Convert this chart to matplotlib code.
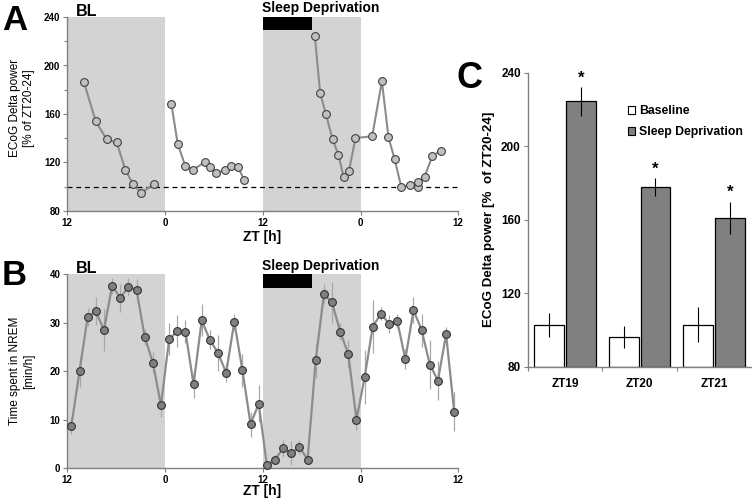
import matplotlib
matplotlib.use("Agg")
import matplotlib.pyplot as plt
import numpy as np
from matplotlib.patches import Patch, Rectangle

plt.rcParams['font.family'] = ['Liberation Sans', 'DejaVu Sans']

# ---------------- data ----------------
# Panel A: ECoG delta power (% of ZT20-24); x = hours from start (label 12,0,12,0,12)
a1_hours = [2.05, 3.49, 4.84, 6.07, 7.13, 8.07, 9.09, 10.69]
a1_values = [186, 154, 139, 136.5, 114, 102, 95, 102.5]
a2_hours = [12.78, 13.56, 14.47, 15.48, 16.88, 17.53, 18.27, 19.37, 20.07, 20.93, 21.74]
a2_values = [168, 135.3, 117.4, 114.1, 120.4, 116.5, 111.6, 113.6, 117.1, 116.3, 105.6]
a3_hours = [30.39, 31.04, 31.74, 32.56, 33.29, 33.91, 34.57, 35.38, 37.43, 38.62,
            39.43, 40.17, 41.0, 42.06, 43.1, 43.05, 43.86, 44.8, 45.82]
a3_values = [224.3, 177.1, 160.3, 139.1, 126.4, 108.3, 112.7, 140.2, 141.6, 187,
             140.8, 123.1, 99.8, 101.4, 100, 104.2, 108.3, 125.1, 129.8]

# Panel B: time spent in NREM (min/h), hourly
b_hours = list(np.arange(48) + 0.5)
b_values = [8.8, 20.0, 31.2, 32.4, 28.5, 37.6, 35.2, 37.4, 36.8, 27.1, 21.8, 13.0,
            26.6, 28.3, 28.2, 17.3, 30.5, 26.5, 23.8, 19.7, 30.2, 20.2, 9.1, 13.3,
            0.6, 1.8, 4.1, 3.1, 4.4, 1.8, 22.3, 35.9, 34.2, 28.2, 23.5, 10.0,
            18.8, 29.2, 31.9, 29.8, 30.4, 22.5, 32.6, 28.5, 21.4, 18.1, 27.6, 11.7]
b_errors = [1.7, 3.2, 1.9, 2.9, 4.3, 1.7, 2.9, 1.9, 2.3, 1.7, 2.2, 2.5,
            3.3, 3.3, 2.4, 2.9, 3.3, 2.0, 3.7, 2.0, 1.6, 3.4, 2.6, 3.8,
            1.0, 1.0, 1.7, 2.5, 1.5, 1.0, 3.6, 2.0, 4.3, 1.7, 2.9, 2.2,
            5.5, 5.5, 1.4, 1.9, 1.4, 2.0, 2.7, 3.4, 5.0, 4.0, 1.6, 4.1]

x_tick_pos = [0, 12, 24, 36, 48]
x_tick_labels = ['12', '0', '12', '0', '12']
dark_periods = [(0, 12), (24, 36)]
sd_period = (24, 30)

# Panel C
c_categories = ['ZT19', 'ZT20', 'ZT21']
c_baseline = [102.5, 96.0, 102.9]
c_baseline_err = [6.6, 5.9, 9.6]
c_sd = [224.4, 177.8, 160.9]
c_sd_err = [7.7, 4.7, 8.7]

# ---------------- figure ----------------
W, H = 752, 499
fig = plt.figure(figsize=(W / 100, H / 100), dpi=100)

def fx(px):
    return px / W

def fy(py):
    return 1 - py / H

shade = '#d3d3d3'
spine_col = '#808080'
tick_fs = 7

def style_axes(ax):
    for s in ['top', 'right']:
        ax.spines[s].set_visible(False)
    for s in ['left', 'bottom']:
        ax.spines[s].set_color(spine_col)
        ax.spines[s].set_linewidth(1.0)
    ax.tick_params(direction='out', length=3, width=0.8, color=spine_col,
                   labelsize=tick_fs, pad=2)
    for lab in ax.get_xticklabels() + ax.get_yticklabels():
        lab.set_fontweight('bold')

# ----- Panel A -----
axA = fig.add_axes([fx(67.3), fy(211), fx(458.3 - 67.3), (211 - 17) / H])
for s, e in dark_periods:
    axA.axvspan(s, e, color=shade, lw=0, zorder=0)
axA.add_patch(Rectangle((sd_period[0], 229.3), sd_period[1] - sd_period[0], 10.7,
                        color='black', lw=0, zorder=3, clip_on=False))
axA.axhline(100, color='black', ls=(0, (4, 3)), lw=0.9, zorder=1)
for hrs, vals in [(a1_hours, a1_values), (a2_hours, a2_values), (a3_hours, a3_values)]:
    axA.plot(hrs, vals, color='#8c8c8c', lw=1.5, marker='o', ms=5.6,
             mfc='#c0c0c0', mec='#404040', mew=0.8, zorder=4)
axA.set_xlim(0, 48)
axA.set_ylim(80, 240)
axA.set_yticks([80, 120, 160, 200, 240])
axA.set_yticks([100, 140, 180, 220], minor=True)
axA.set_xticks(x_tick_pos)
axA.set_xticklabels(x_tick_labels)
style_axes(axA)
axA.tick_params(which='minor', direction='out', length=2, width=0.8, color=spine_col)

# ----- Panel B -----
axB = fig.add_axes([fx(67.3), fy(468.3), fx(458.3 - 67.3), (468.3 - 274.3) / H])
for s, e in dark_periods:
    axB.axvspan(s, e, color=shade, lw=0, zorder=0)
axB.add_patch(Rectangle((sd_period[0], 37.2), sd_period[1] - sd_period[0], 2.8,
                        color='black', lw=0, zorder=3, clip_on=False))
axB.errorbar(b_hours, b_values, yerr=b_errors, fmt='none', ecolor='#a8a8a8',
             elinewidth=0.9, capsize=0, zorder=2)
axB.plot(b_hours, b_values, color='#8c8c8c', lw=1.6, marker='o', ms=5.6,
         mfc='#808080', mec='#303030', mew=0.8, zorder=4, clip_on=False)
axB.set_xlim(0, 48)
axB.set_ylim(0, 40)
axB.set_yticks([0, 10, 20, 30, 40])
axB.set_xticks(x_tick_pos)
axB.set_xticklabels(x_tick_labels)
style_axes(axB)

# ----- Panel C -----
axC = fig.add_axes([fx(527.7), fy(366.7), fx(751.5 - 527.7), (366.7 - 72.7) / H])
xc = np.arange(len(c_categories)) + 0.5
bw = 0.4
axC.bar(xc - 0.213, [v - 80 for v in c_baseline], bottom=80, width=bw,
        color='white', edgecolor='black', lw=0.9, zorder=2)
axC.bar(xc + 0.213, [v - 80 for v in c_sd], bottom=80, width=bw,
        color='#808080', edgecolor='black', lw=0.9, zorder=2)
axC.errorbar(xc - 0.213, c_baseline, yerr=c_baseline_err, fmt='none',
             ecolor='black', elinewidth=0.8, capsize=0, zorder=3)
axC.errorbar(xc + 0.213, c_sd, yerr=c_sd_err, fmt='none',
             ecolor='black', elinewidth=0.8, capsize=0, zorder=3)
for x, v, e in zip(xc + 0.213, c_sd, c_sd_err):
    axC.text(x, v + e + 1, '*', ha='center', va='bottom', fontsize=12,
             fontweight='bold')
axC.set_xlim(0, 3)
axC.set_ylim(80, 240)
axC.set_yticks([80, 120, 160, 200, 240])
axC.set_xticks([0, 1, 2, 3])
axC.set_xticklabels([])
axC.set_xticks(xc, minor=True)
axC.set_xticklabels(c_categories, minor=True)
style_axes(axC)
axC.tick_params(axis='y', labelsize=8.5)
axC.tick_params(axis='x', which='minor', length=0, labelsize=8.5, pad=8)
for lab in axC.get_xticklabels(minor=True) + axC.get_yticklabels():
    lab.set_fontweight('bold')
axC.set_ylabel('ECoG Delta power [%  of ZT20-24]', fontsize=9.6,
               fontweight='bold', labelpad=4)

handles = [Patch(facecolor='white', edgecolor='black', lw=0.8, label='Baseline'),
           Patch(facecolor='#808080', edgecolor='black', lw=0.8, label='Sleep Deprivation')]
leg = fig.legend(handles=handles, loc='upper left',
                 bbox_to_anchor=(fx(628), fy(105)), frameon=False,
                 prop={'weight': 'bold', 'size': 8.8}, handlelength=0.6,
                 handleheight=0.6, handletextpad=0.3, labelspacing=0.75,
                 borderpad=0, borderaxespad=0)

# ----- texts -----
fig.text(fx(22), fy(108), 'ECoG Delta power\n[% of ZT20-24]', rotation=90,
         ha='center', va='center', fontsize=8.5, multialignment='center')
fig.text(fx(22), fy(371), 'Time spent in NREM\n[min/h]', rotation=90,
         ha='center', va='center', fontsize=8.5, multialignment='center')
fig.text(fx(262), fy(237), 'ZT [h]', ha='center', va='center', fontsize=10,
         fontweight='bold')
fig.text(fx(262), fy(491), 'ZT [h]', ha='center', va='center', fontsize=10,
         fontweight='bold')
fig.text(fx(76), fy(15.5), 'BL', ha='left', va='baseline', fontsize=11.5,
         fontweight='bold')
fig.text(fx(262.3), fy(12), 'Sleep Deprivation', ha='left', va='baseline',
         fontsize=10, fontweight='bold')
fig.text(fx(76), fy(273.3), 'BL', ha='left', va='baseline', fontsize=11.5,
         fontweight='bold')
fig.text(fx(262.3), fy(270), 'Sleep Deprivation', ha='left', va='baseline',
         fontsize=10, fontweight='bold')
fig.text(fx(2), fy(30), 'A', ha='left', va='baseline', fontsize=25,
         fontweight='bold')
fig.text(fx(2), fy(285), 'B', ha='left', va='baseline', fontsize=25,
         fontweight='bold')
fig.text(fx(456), fy(88), 'C', ha='left', va='baseline', fontsize=26,
         fontweight='bold')

fig.savefig('out.png', dpi=100)
